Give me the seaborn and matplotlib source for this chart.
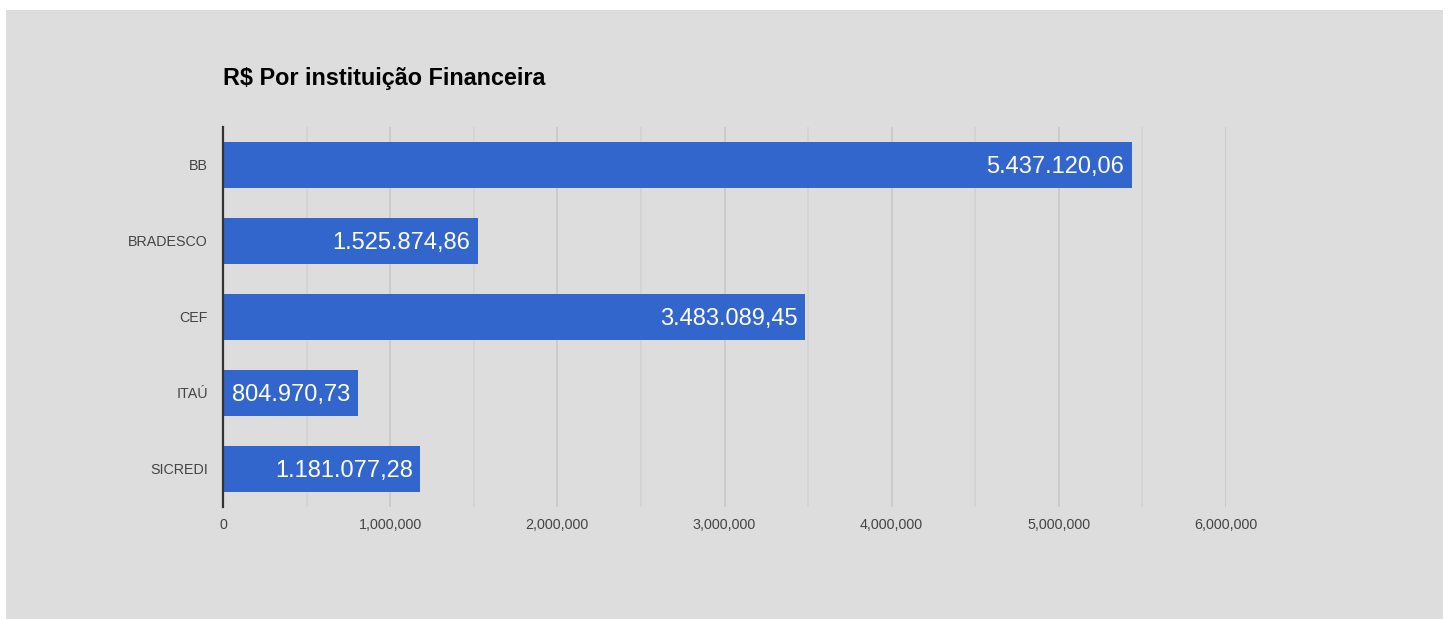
import matplotlib
matplotlib.use("Agg")
import matplotlib.pyplot as plt
import matplotlib.ticker as mticker
from matplotlib.patches import Rectangle
import seaborn as sns
import pandas as pd

bancos = ["BB", "BRADESCO", "CEF", "ITAÚ", "SICREDI"]
valores = [5437120.06, 1525874.86, 3483089.45, 804970.73, 1181077.28]
rotulos = ["5.437.120,06", "1.525.874,86", "3.483.089,45", "804.970,73", "1.181.077,28"]
x_ticks = [0, 1000000, 2000000, 3000000, 4000000, 5000000, 6000000]
x_labels = ["0", "1,000,000", "2,000,000", "3,000,000", "4,000,000", "5,000,000", "6,000,000"]

df = pd.DataFrame({"banco": bancos, "valor": valores})

sns.set_style("white")
plt.rcParams["font.family"] = ["Liberation Sans", "DejaVu Sans"]

bg = "#dddddd"
fig = plt.figure(figsize=(14.5, 6.19), dpi=100)
fig.patch.set_facecolor("white")
fig.patches.append(Rectangle((6 / 1450, 0), 1437 / 1450, 1 - 10 / 619,
                             transform=fig.transFigure, facecolor=bg,
                             edgecolor="none", zorder=-10))

ax = fig.add_axes([223 / 1450, 1 - 507 / 619, 1003 / 1450, 380 / 619])
ax.set_facecolor(bg)
ax.set_zorder(1)

sns.barplot(data=df, x="valor", y="banco", color="#3366cc", saturation=1,
            width=0.605, linewidth=0, ax=ax, zorder=3)

# rotulos brancos dentro das barras
for i, (v, t) in enumerate(zip(valores, rotulos)):
    ax.annotate(t, (v, i), xytext=(-5.5, -1.5), textcoords="offset points",
                ha="right", va="center", color="white", fontsize=17, zorder=4)

ax.set_xlim(0, 6000000)
ax.set_ylim(4.5, -0.5)
ax.set_xticks(x_ticks)
ax.set_xticklabels(x_labels)
ax.xaxis.set_minor_locator(mticker.MultipleLocator(500000))
ax.grid(axis="x", which="major", color="#c8c8c8", linewidth=1.2, zorder=1)
ax.grid(axis="x", which="minor", color="#d3d3d3", linewidth=1.2, zorder=1)
ax.tick_params(axis="both", which="both", length=0, colors="#444444", labelsize=10.3)
ax.tick_params(axis="x", pad=8)
ax.tick_params(axis="y", pad=11)
ax.set_xlabel("")
ax.set_ylabel("")
for s in ["top", "right", "bottom"]:
    ax.spines[s].set_visible(False)
ax.spines["left"].set_color("#333333")
ax.spines["left"].set_linewidth(1.6)
ax.spines["left"].set_zorder(5)

fig.text(223 / 1450, 1 - 78 / 619, "R$ Por instituição Financeira",
         fontsize=16.8, fontweight="bold", ha="left", va="center", color="black")

fig.savefig("out.png", dpi=100, facecolor=fig.get_facecolor())
